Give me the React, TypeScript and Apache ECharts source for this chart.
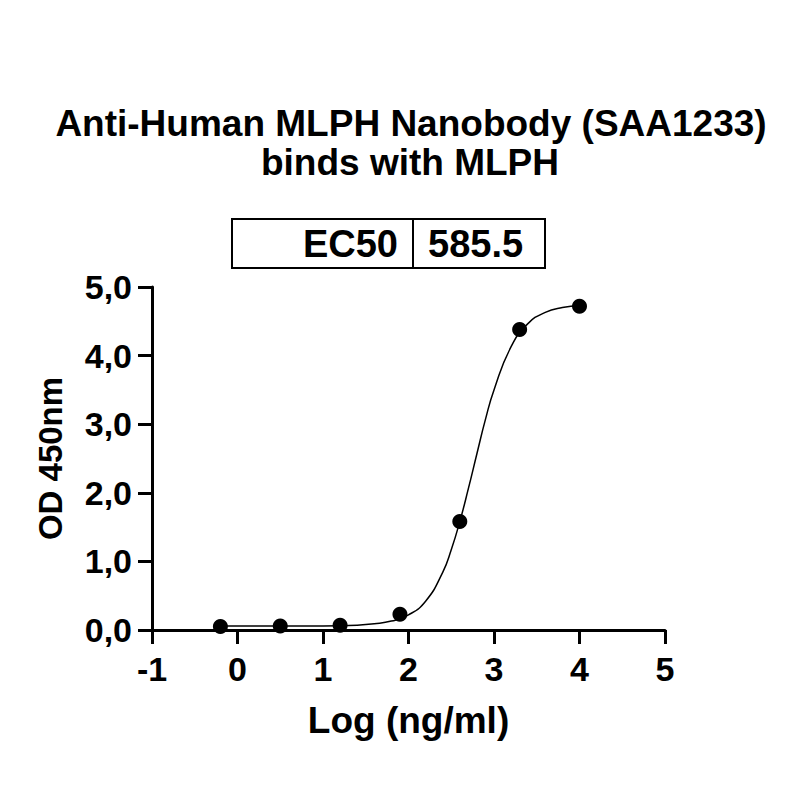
import React, { useEffect, useRef } from 'react';
import * as echarts from 'echarts';

// measured points: log concentration vs OD 450nm
const logConc = [-0.2, 0.5, 1.2, 1.9, 2.6, 3.3, 4.0];
const od450 = [0.05, 0.06, 0.07, 0.23, 1.58, 4.38, 4.72];

// fitted curve
const curveX = [-0.2, 0.2, 0.6, 1.0, 1.4, 1.6, 1.8, 2.0, 2.2, 2.4, 2.5, 2.6, 2.7, 2.8, 2.9, 3.0, 3.2, 3.4, 3.6, 3.8, 4.0];
const curveY = [0.06, 0.06, 0.06, 0.06, 0.07, 0.09, 0.13, 0.22, 0.42, 0.84, 1.17, 1.58, 2.06, 2.57, 3.07, 3.5, 4.13, 4.47, 4.63, 4.7, 4.73];

const titleLines = ['Anti-Human MLPH Nanobody (SAA1233)', 'binds with MLPH'];
const ec50Label = 'EC50';
const ec50Value = '585.5';

const FONT = '"Liberation Sans", Arial, sans-serif';

const App: React.FC = () => {
  const chartRef = useRef<HTMLDivElement>(null);

  useEffect(() => {
    const chart = echarts.init(chartRef.current!, null, { renderer: 'svg' });

    const options = {
      animation: false,
      backgroundColor: '#fff',
      grid: { left: 152, right: 135, top: 287, bottom: 170, containLabel: false },
      xAxis: {
        type: 'value',
        min: -1,
        max: 5,
        interval: 1,
        name: 'Log (ng/ml)',
        nameLocation: 'middle',
        nameGap: 72,
        nameTextStyle: { fontFamily: FONT, fontWeight: 'bold', fontSize: 37, color: '#000' },
        axisLine: { show: true, onZero: false, lineStyle: { color: '#000', width: 3 } },
        axisTick: { show: true, length: 14, lineStyle: { color: '#000', width: 3 } },
        axisLabel: { fontFamily: FONT, fontWeight: 'bold', fontSize: 34, color: '#000', margin: 22 },
        splitLine: { show: false },
      },
      yAxis: {
        type: 'value',
        min: 0,
        max: 5,
        interval: 1,
        name: 'OD 450nm',
        nameLocation: 'middle',
        nameGap: 85,
        nameTextStyle: { fontFamily: FONT, fontWeight: 'bold', fontSize: 33, color: '#000' },
        axisLine: { show: true, onZero: false, lineStyle: { color: '#000', width: 3 } },
        axisTick: { show: true, length: 14, lineStyle: { color: '#000', width: 3 } },
        axisLabel: {
          fontFamily: FONT,
          fontWeight: 'bold',
          fontSize: 34,
          color: '#000',
          margin: 20,
          formatter: (v: number) => v.toFixed(1).replace('.', ','),
        },
        splitLine: { show: false },
      },
      graphic: [
        {
          type: 'text',
          x: 411,
          y: 123,
          style: {
            text: titleLines[0],
            fontFamily: FONT,
            fontWeight: 'bold',
            fontSize: 37,
            fill: '#000',
            align: 'center',
            verticalAlign: 'middle',
          },
        },
        {
          type: 'text',
          x: 410,
          y: 162,
          style: {
            text: titleLines[1],
            fontFamily: FONT,
            fontWeight: 'bold',
            fontSize: 37,
            fill: '#000',
            align: 'center',
            verticalAlign: 'middle',
          },
        },
        {
          type: 'rect',
          shape: { x: 232, y: 219, width: 313, height: 49 },
          style: { fill: 'none', stroke: '#000', lineWidth: 2 },
        },
        {
          type: 'line',
          shape: { x1: 413, y1: 219, x2: 413, y2: 268 },
          style: { stroke: '#000', lineWidth: 2 },
        },
        {
          type: 'text',
          x: 398,
          y: 244,
          style: {
            text: ec50Label,
            fontFamily: FONT,
            fontWeight: 'bold',
            fontSize: 38,
            fill: '#000',
            align: 'right',
            verticalAlign: 'middle',
          },
        },
        {
          type: 'text',
          x: 428,
          y: 244,
          style: {
            text: ec50Value,
            fontFamily: FONT,
            fontWeight: 'bold',
            fontSize: 38,
            fill: '#000',
            align: 'left',
            verticalAlign: 'middle',
          },
        },
      ],
      series: [
        {
          type: 'line',
          data: curveX.map((x, i) => [x, curveY[i]]),
          smooth: true,
          showSymbol: false,
          lineStyle: { color: '#000', width: 1.5 },
          z: 2,
        },
        {
          type: 'scatter',
          data: logConc.map((x, i) => [x, od450[i]]),
          symbol: 'circle',
          symbolSize: 15,
          itemStyle: { color: '#000', opacity: 1 },
          z: 3,
        },
      ],
    };

    chart.setOption(options);

    return () => {
      chart.dispose();
    };
  }, []);

  return <div ref={chartRef} style={{ width: '800px', height: '800px', margin: '-8px' }} />;
};

export default App;
